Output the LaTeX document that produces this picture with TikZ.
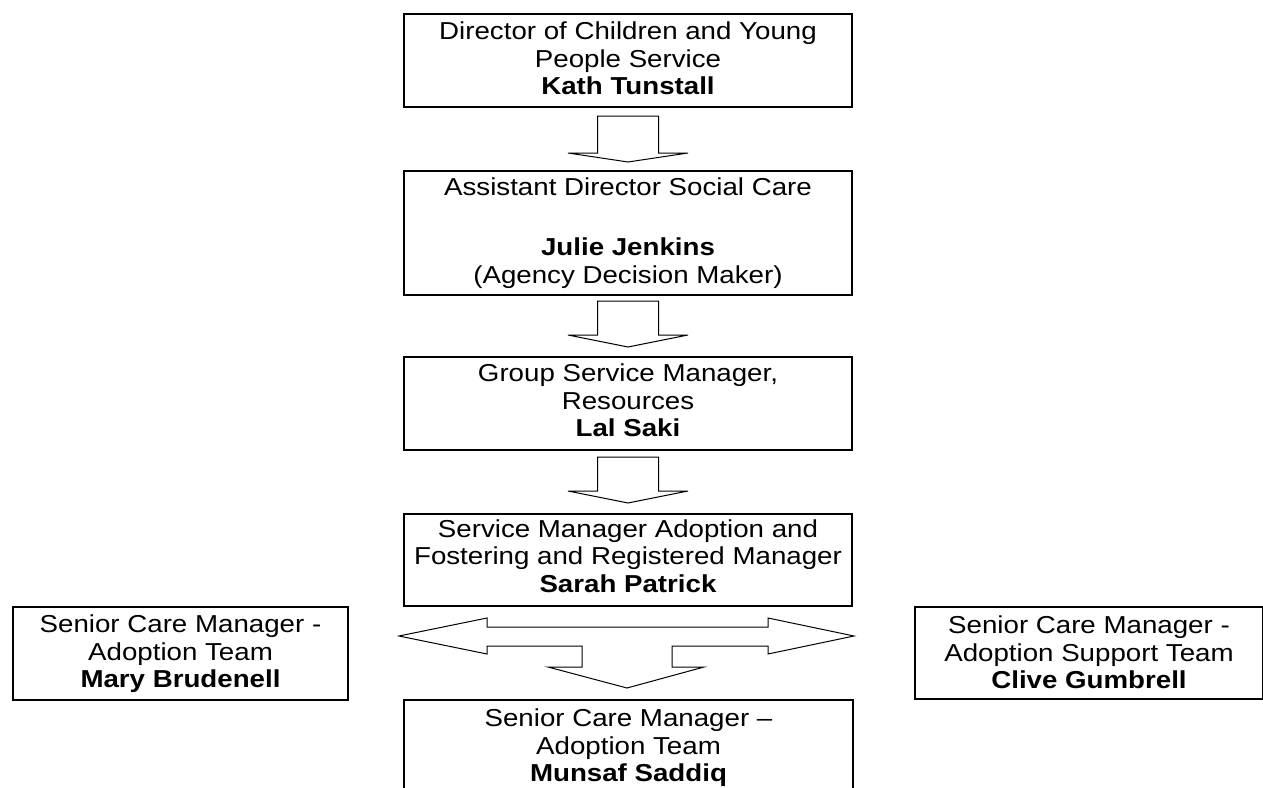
\documentclass[tikz,border=0pt]{standalone}
\usepackage{fontspec}
\setmainfont{Liberation Sans}[FakeStretch=1.13]
\usetikzlibrary{calc}
\tikzset{
  box/.style={draw, line width=2pt, inner sep=0pt, anchor=north west},
  txt/.style={anchor=north, inner sep=0pt, align=center, font=\fontsize{24.5}{27.5}\selectfont},
  arr/.style={draw, line width=1pt, line join=miter, fill=white},
}
% #1 upper node, #2 lower node, #3 stem top below #1, #4 tip above #2, #5 head height
\newcommand\blkarrow[5]{%
  \draw[arr] let \p1=($(#1.south)+(0,#3)$), \p2=($(#2.north)+(0,-#4)$) in
    (\x1-30.5pt,\y1) -- (\x1+30.5pt,\y1) -- (\x1+30.5pt,\y2+#5pt) -- (\x1+60pt,\y2+#5pt)
    -- (\x1,\y2) -- (\x1-60pt,\y2+#5pt) -- (\x1-30.5pt,\y2+#5pt) -- cycle;}
\begin{document}
\begin{tikzpicture}[x=1pt,y=-1pt]
\useasboundingbox (0,0) rectangle (1263,787);
\clip (0,0) rectangle (1263,787);
\fill[white] (0,0) rectangle (1263,787);

% boxes
\node[box, minimum width=448pt, minimum height=93pt]  (b1) at (403,13)  {};
\node[box, minimum width=448pt, minimum height=124pt] (b2) at (403,170) {};
\node[box, minimum width=448pt, minimum height=93pt]  (b3) at (403,356) {};
\node[box, minimum width=448pt, minimum height=92pt]  (b4) at (403,513) {};
\node[box, minimum width=449pt, minimum height=130pt] (b5) at (403,699) {};
\node[box, minimum width=335pt, minimum height=93pt]  (bl) at (12,606)  {};
\node[box, minimum width=348pt, minimum height=92pt]  (br) at (914,606) {};

% texts
\node[txt] (t1) at ($(b1.north)+(0,9)$) {Director of Children and Young\\People Service\\\textbf{Kath Tunstall}};
\node[txt] (t2) at ($(b2.north)+(0,8)$) {Assistant Director Social Care\\\mbox{}\\[5pt]\textbf{Julie Jenkins}\\(Agency Decision Maker)};
\node[txt] (t3) at ($(b3.north)+(0,8)$) {Group Service Manager,\\Resources\\\textbf{Lal Saki}};
\node[txt] (t4) at ($(b4.north)+(0,6.5)$) {Service Manager Adoption and\\Fostering and Registered Manager\\\textbf{Sarah Patrick}};
\node[txt] (t5) at ($(b5.north)+(0,10)$) {Senior Care Manager –\\Adoption Team\\\textbf{Munsaf Saddiq}};
\node[txt] (tl) at ($(bl.north)+(0,9)$) {Senior Care Manager -\\Adoption Team\\\textbf{Mary Brudenell}};
\node[txt] (tr) at ($(br.north)+(0,10)$) {Senior Care Manager -\\Adoption Support Team\\\textbf{Clive Gumbrell}};

% block arrows
\blkarrow{b1}{b2}{8}{8}{9}
\blkarrow{b2}{b3}{5}{9}{12}
\blkarrow{b3}{b4}{6}{10}{12}

% double arrow with downward branch
\draw[arr]
  ($(b4.south)+(-229,29)$) -- ($(b4.south)+(-141,11)$) -- ($(b4.south)+(-141,20)$)
  -- ($(b4.south)+(140,20)$) -- ($(b4.south)+(140,11)$) -- ($(b4.south)+(226,29)$)
  -- ($(b4.south)+(140,47)$) -- ($(b4.south)+(140,39)$) -- ($(b4.south)+(44,39)$)
  -- ($(b5.north)+(43.5,-32)$) -- ($(b5.north)+(75.5,-32)$) -- ($(b5.north)+(-1.5,-11)$)
  -- ($(b5.north)+(-80.5,-32)$) -- ($(b5.north)+(-46.5,-32)$) -- ($(b4.south)+(-46,39)$)
  -- ($(b4.south)+(-141,39)$) -- ($(b4.south)+(-141,47)$) -- cycle;
\end{tikzpicture}
\end{document}
